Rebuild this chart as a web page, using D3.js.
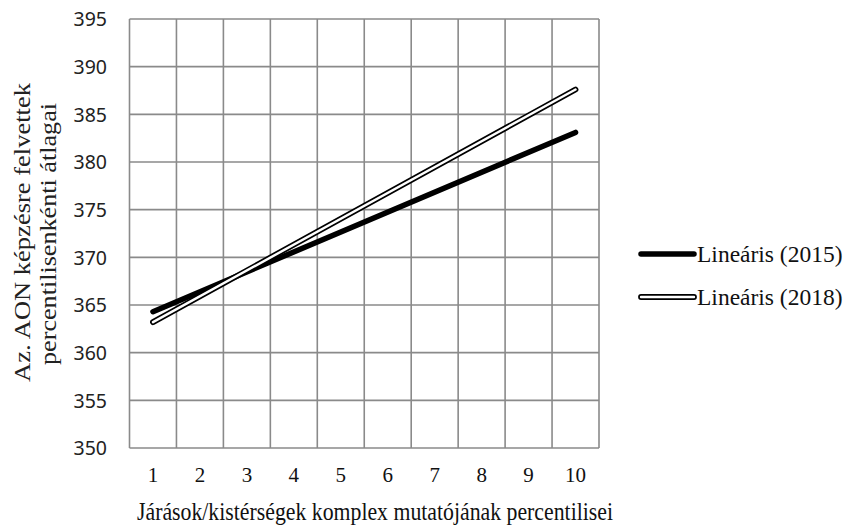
<!DOCTYPE html>
<html><head><meta charset="utf-8">
<script src="https://cdn.jsdelivr.net/npm/d3@7"></script>
<style>html,body{margin:0;padding:0;background:#fff;}</style>
</head><body>
<svg id="c" width="853" height="529"></svg>
<script>
const categories = [1,2,3,4,5,6,7,8,9,10];
const yTicks = [350,355,360,365,370,375,380,385,390,395];
const trendX = [1, 10];
const trend2015 = [364.3, 383.1];
const trend2018 = [363.2, 387.6];
const seriesNames = ["Lineáris (2015)", "Lineáris (2018)"];
const xTitle = "Járások/kistérségek komplex mutatójának percentilisei";
const yTitle1 = "Az. AON képzésre felvettek";
const yTitle2 = "percentilisenkénti átlagai";

const svg = d3.select("#c");
const L = 129.5, R = 599, T = 19, B = 448;
const x = d3.scaleBand().domain(categories).range([L, R]).padding(0);
const xc = v => x(v) + x.bandwidth() / 2;
const y = d3.scaleLinear().domain([350, 395]).range([B, T]);
const grid = "#8a8a8a";
const serif = "'Liberation Serif', 'Times New Roman', serif";

// horizontal gridlines
svg.append("g").selectAll("line").data(yTicks).join("line")
  .attr("x1", L).attr("x2", R).attr("y1", d => y(d)).attr("y2", d => y(d))
  .attr("stroke", grid).attr("stroke-width", 1.6);
// vertical gridlines (band boundaries)
const vb = categories.map(c => x(c)).concat([R]);
svg.append("g").selectAll("line").data(vb).join("line")
  .attr("x1", d => d).attr("x2", d => d).attr("y1", T).attr("y2", B)
  .attr("stroke", grid).attr("stroke-width", 1.6);

// y axis labels
const yAxis = d3.axisLeft(y).tickValues(yTicks).tickSize(0).tickPadding(0);
const gy = svg.append("g").attr("transform", "translate(107,0)").call(yAxis);
gy.select(".domain").remove();
gy.selectAll("text").attr("font-family", "'Noto Sans', sans-serif").attr("font-size", 19.5).attr("fill", "#222").attr("dy", "0.35em");

// x axis labels
const xAxis = d3.axisBottom(x).tickSize(0).tickPadding(0);
const gx = svg.append("g").call(xAxis);
gx.select(".domain").remove();
gx.selectAll("text").attr("y", 482).attr("dy", 0).attr("font-family", serif).attr("font-size", 21).attr("fill", "#111");

// lines
const line = d3.line().x(d => xc(d[0])).y(d => y(d[1]));
const d15 = trendX.map((v, i) => [v, trend2015[i]]);
const d18 = trendX.map((v, i) => [v, trend2018[i]]);
svg.append("path").datum(d15).attr("d", line).attr("fill", "none").attr("stroke", "#000").attr("stroke-width", 5.5).attr("stroke-linecap", "round");
svg.append("path").datum(d18).attr("d", line).attr("fill", "none").attr("stroke", "#000").attr("stroke-width", 5.8).attr("stroke-linecap", "round");
svg.append("path").datum(d18).attr("d", line).attr("fill", "none").attr("stroke", "#fff").attr("stroke-width", 2.4).attr("stroke-linecap", "round");

// legend
const legY = [254, 297];
const lg = svg.append("g");
lg.append("line").attr("x1", 641).attr("x2", 694).attr("y1", legY[0]).attr("y2", legY[0]).attr("stroke", "#000").attr("stroke-width", 5.5).attr("stroke-linecap", "round");
lg.append("line").attr("x1", 641).attr("x2", 694).attr("y1", legY[1]).attr("y2", legY[1]).attr("stroke", "#000").attr("stroke-width", 5.8).attr("stroke-linecap", "round");
lg.append("line").attr("x1", 641).attr("x2", 694).attr("y1", legY[1]).attr("y2", legY[1]).attr("stroke", "#fff").attr("stroke-width", 2.4).attr("stroke-linecap", "round");
lg.selectAll("text").data(seriesNames).join("text")
  .attr("x", 697).attr("y", (d, i) => legY[i] + 8)
  .attr("font-family", serif).attr("font-size", 23.5).attr("fill", "#111")
  .text(d => d);

// x title
svg.append("text").attr("x", 137).attr("y", 520)
  .attr("font-family", serif).attr("font-size", 25).attr("fill", "#111")
  .attr("textLength", 476).attr("lengthAdjust", "spacingAndGlyphs")
  .text(xTitle);

// y title
svg.append("text").attr("transform", "translate(30,382) rotate(-90)")
  .attr("font-family", serif).attr("font-size", 24).attr("fill", "#222")
  .attr("textLength", 299).attr("lengthAdjust", "spacingAndGlyphs")
  .text(yTitle1);
svg.append("text").attr("transform", "translate(56,365) rotate(-90)")
  .attr("font-family", serif).attr("font-size", 24).attr("fill", "#222")
  .attr("textLength", 262).attr("lengthAdjust", "spacingAndGlyphs")
  .text(yTitle2);
</script>
</body></html>
